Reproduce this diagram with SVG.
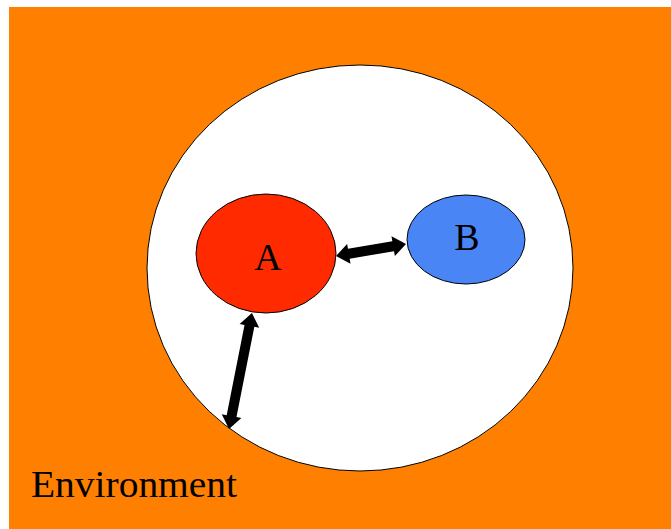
<svg xmlns="http://www.w3.org/2000/svg" width="671" height="529" viewBox="0 0 671 529">
<style>
.lbl{font-family:"Liberation Serif","Times New Roman",serif;fill:#000}
.node{stroke:#000;stroke-width:1}
.arr{fill:#000}
</style>
<rect x="0" y="0" width="671" height="529" fill="#fff"/>
<rect id="environment" x="9" y="7" width="662" height="522" fill="#FF7F00"/>
<text class="lbl" x="31" y="497" font-size="38" textLength="206" lengthAdjust="spacingAndGlyphs">Environment</text>
<g id="cell">
<ellipse class="node" cx="360" cy="268" rx="213" ry="203" fill="#fff"/>
</g>
<g id="nodeA">
<ellipse class="node" cx="266" cy="253.5" rx="70" ry="59.5" fill="#FF2A00"/>
<text class="lbl" x="268" y="270" font-size="38" text-anchor="middle">A</text>
</g>
<g id="nodeB">
<ellipse class="node" cx="466" cy="239.5" rx="59" ry="44.5" fill="#4A85F6"/>
<text class="lbl" x="467" y="250" font-size="38" text-anchor="middle">B</text>
</g>
<g id="connectors">
<path class="arr" transform="translate(371,250) rotate(-9.7)" d="M -35.5,0 L -22.5,-10 L -22.5,-5 L 22.5,-5 L 22.5,-10 L 35.5,0 L 22.5,10 L 22.5,5 L -22.5,5 L -22.5,10 Z"/>
<path class="arr" transform="translate(240.5,371) rotate(101.2)" d="M -59,0 L -46,-10 L -46,-5 L 46,-5 L 46,-10 L 59,0 L 46,10 L 46,5 L -46,5 L -46,10 Z"/>
</g>
</svg>
